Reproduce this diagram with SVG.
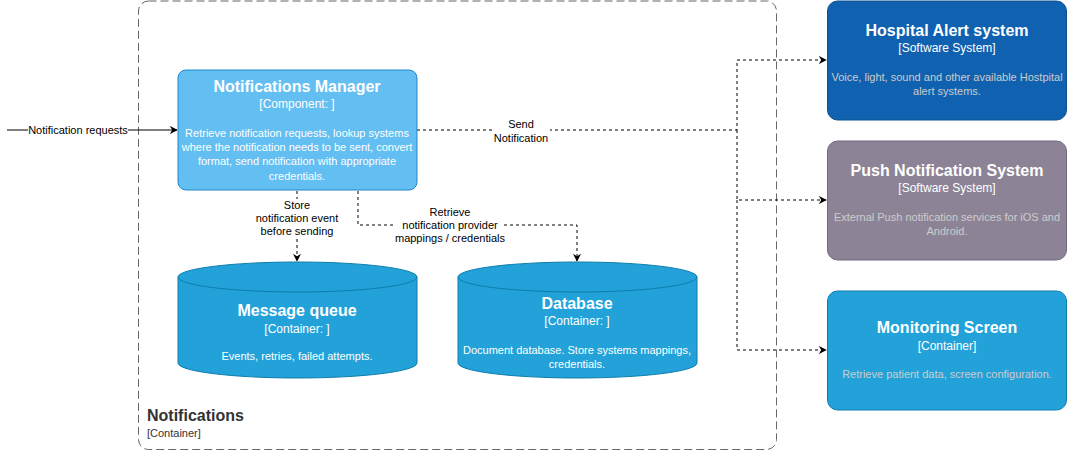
<svg xmlns="http://www.w3.org/2000/svg" width="1068" height="451" viewBox="0 0 1068 451">
<defs>
<style>
text{font-family:"Liberation Sans",Arial,Helvetica,sans-serif;text-anchor:middle}
.t{font-size:16px;font-weight:bold;fill:#fff}
.s{font-size:12px;fill:#fff}
.d{font-size:11px;fill:#fff}
.dg{font-size:11px;fill:#ccc}
.l{font-size:11px;fill:#000}
.c{fill:none;stroke:#000;stroke-width:1}
.dash{stroke-dasharray:3 3}
.lb{fill:#fff}
</style>
<marker id="ah" viewBox="0 0 10 10" refX="9" refY="5" markerWidth="8" markerHeight="8" markerUnits="userSpaceOnUse" orient="auto">
<path d="M0,0 L10,5 L0,10 L3,5 Z" fill="#000"/>
</marker>
</defs>
<rect width="1068" height="451" fill="#fff"/>

<g id="boundary">
<rect x="138.5" y="1" width="638" height="448.5" rx="10" fill="none" stroke="#666" stroke-dasharray="8 4"/>
<text x="147" y="421" style="text-anchor:start;font-size:16px;font-weight:bold;fill:#333">Notifications</text>
<text x="147" y="437" style="text-anchor:start;font-size:11px;fill:#333">[Container]</text>
</g>

<g id="connectors">
<path class="c" d="M7,130 H177" marker-end="url(#ah)"/>
<rect class="lb" x="28" y="123" width="100" height="13"/>
<text class="l" x="78" y="134">Notification requests</text>

<path class="c dash" d="M417,130 H737 V60 H826" marker-end="url(#ah)"/>
<path class="c dash" d="M737,130 V200 H826" marker-end="url(#ah)"/>
<path class="c dash" d="M737,200 V350 H826" marker-end="url(#ah)"/>
<rect class="lb" x="492" y="118" width="58" height="26"/>
<text class="l" x="521" y="128">Send</text>
<text class="l" x="521" y="142">Notification</text>

<path class="c dash" d="M297,191 V261" marker-end="url(#ah)"/>
<rect class="lb" x="254" y="199" width="86" height="38"/>
<text class="l" x="297" y="209">Store</text>
<text class="l" x="297" y="222">notification event</text>
<text class="l" x="297" y="235">before sending</text>

<path class="c dash" d="M358,191 V225 H577 V261" marker-end="url(#ah)"/>
<rect class="lb" x="394" y="206" width="110" height="38"/>
<text class="l" x="450" y="216">Retrieve</text>
<text class="l" x="450" y="229">notification provider</text>
<text class="l" x="450" y="242">mappings / credentials</text>
</g>

<g id="notifications-manager">
<rect x="178" y="70" width="239" height="120" rx="8" fill="#63BEF2" stroke="#2086C9"/>
<text class="t" x="297" y="92">Notifications Manager</text>
<text class="s" x="297" y="108">[Component: ]</text>
<text class="d" x="297" y="137">Retrieve notification requests, lookup systems</text>
<text class="d" x="297" y="151">where the notification needs to be sent, convert</text>
<text class="d" x="297" y="165">format, send notification with appropriate</text>
<text class="d" x="297" y="180">credentials.</text>
</g>

<g id="message-queue">
<path d="M178,277 A119.5,15 0 0 1 417,277 V363 A119.5,15 0 0 1 178,363 Z" fill="#23A2D9" stroke="#0E7DAD"/>
<path d="M178,277 A119.5,15 0 0 0 417,277" fill="none" stroke="#0E7DAD"/>
<text class="t" x="297" y="316">Message queue</text>
<text class="s" x="297" y="333">[Container: ]</text>
<text class="d" x="297" y="360">Events, retries, failed attempts.</text>
</g>

<g id="database">
<path d="M458,277 A119.5,15 0 0 1 697,277 V363 A119.5,15 0 0 1 458,363 Z" fill="#23A2D9" stroke="#0E7DAD"/>
<path d="M458,277 A119.5,15 0 0 0 697,277" fill="none" stroke="#0E7DAD"/>
<text class="t" x="577" y="309">Database</text>
<text class="s" x="577" y="325">[Container: ]</text>
<text class="d" x="577" y="354">Document database. Store systems mappings,</text>
<text class="d" x="577" y="368">credentials.</text>
</g>

<g id="hospital-alert">
<rect x="827.5" y="1" width="239" height="119" rx="10" fill="#1061B0" stroke="#0D5091"/>
<text class="t" x="947" y="36">Hospital Alert system</text>
<text class="s" x="947" y="52">[Software System]</text>
<text class="dg" x="947" y="81">Voice, light, sound and other available Hostpital</text>
<text class="dg" x="947" y="95">alert systems.</text>
</g>

<g id="push-notification">
<rect x="827.5" y="141" width="239" height="119" rx="10" fill="#8C8496" stroke="#736782"/>
<text class="t" x="947" y="176">Push Notification System</text>
<text class="s" x="947" y="192">[Software System]</text>
<text class="dg" x="947" y="221">External Push notification services for iOS and</text>
<text class="dg" x="947" y="235">Android.</text>
</g>

<g id="monitoring-screen">
<rect x="827.5" y="291" width="239" height="119" rx="10" fill="#23A2D9" stroke="#0E7DAD"/>
<text class="t" x="947" y="333">Monitoring Screen</text>
<text class="s" x="947" y="350">[Container]</text>
<text class="dg" x="947" y="378">Retrieve patient data, screen configuration.</text>
</g>
</svg>
